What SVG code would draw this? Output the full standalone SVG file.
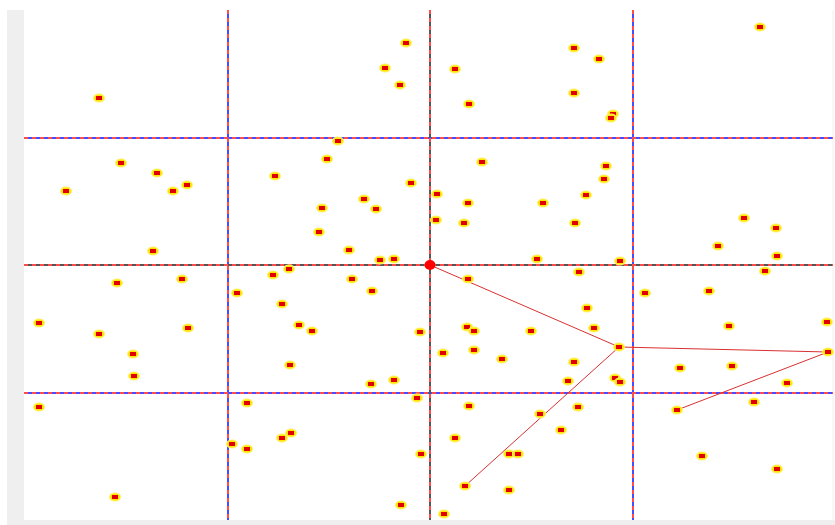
<svg xmlns="http://www.w3.org/2000/svg" xmlns:xlink="http://www.w3.org/1999/xlink" width="835" height="525" viewBox="0 0 835 525">
<style>
.grid{stroke:#4a4aff;stroke-width:2;fill:none}
.gridc{stroke:#555;stroke-width:2;fill:none}
.dash{stroke:#ff4d4d;stroke-width:2;stroke-dasharray:4 4;fill:none}
.edge{stroke:#d83030;stroke-width:1;fill:none}
</style>
<defs>
<g id="pt"><ellipse cx="0" cy="0" rx="6" ry="4.5" fill="#fff06a"/><ellipse cx="0" cy="0" rx="5" ry="3.6" fill="#ffe600"/><rect x="-3" y="-2" width="6" height="4" fill="#e00000"/></g>
</defs>
<rect x="0" y="0" width="835" height="525" fill="#fff"/>
<rect x="7" y="10" width="17" height="515" fill="#efefef"/>
<rect x="7" y="520" width="828" height="5" fill="#efefef"/>
<line x1="833" y1="10" x2="833" y2="520" stroke="#f0f0f0" stroke-width="1"/>
<g id="grid">
<path class="grid" d="M228,10V520M633,10V520M24,138H833M24,393H833"/>
<path class="gridc" d="M430,10V520M24,265H833"/>
<path class="dash" d="M228,10V520M633,10V520M430,10V520M24,138H833M24,393H833M24,265H833"/>
</g>
<g id="connectors">
<path class="edge" d="M430,265L619,347M619,347L828,352M619,347L465,486M828,352L677,410"/>
</g>
<g id="points">
<use xlink:href="#pt" x="406" y="43"/><use xlink:href="#pt" x="760" y="27"/><use xlink:href="#pt" x="574" y="48"/><use xlink:href="#pt" x="599" y="59"/>
<use xlink:href="#pt" x="385" y="68"/><use xlink:href="#pt" x="455" y="69"/><use xlink:href="#pt" x="400" y="85"/><use xlink:href="#pt" x="99" y="98"/>
<use xlink:href="#pt" x="574" y="93"/><use xlink:href="#pt" x="469" y="104"/><use xlink:href="#pt" x="613" y="114"/><use xlink:href="#pt" x="611" y="118"/>
<use xlink:href="#pt" x="338" y="141"/><use xlink:href="#pt" x="121" y="163"/><use xlink:href="#pt" x="327" y="159"/><use xlink:href="#pt" x="482" y="162"/>
<use xlink:href="#pt" x="157" y="173"/><use xlink:href="#pt" x="606" y="166"/><use xlink:href="#pt" x="275" y="176"/><use xlink:href="#pt" x="187" y="185"/>
<use xlink:href="#pt" x="173" y="191"/><use xlink:href="#pt" x="66" y="191"/><use xlink:href="#pt" x="411" y="183"/><use xlink:href="#pt" x="604" y="179"/>
<use xlink:href="#pt" x="437" y="194"/><use xlink:href="#pt" x="586" y="195"/><use xlink:href="#pt" x="364" y="199"/><use xlink:href="#pt" x="468" y="203"/>
<use xlink:href="#pt" x="322" y="208"/><use xlink:href="#pt" x="376" y="209"/><use xlink:href="#pt" x="543" y="203"/><use xlink:href="#pt" x="744" y="218"/>
<use xlink:href="#pt" x="436" y="220"/><use xlink:href="#pt" x="464" y="223"/><use xlink:href="#pt" x="575" y="223"/><use xlink:href="#pt" x="776" y="228"/>
<use xlink:href="#pt" x="319" y="232"/><use xlink:href="#pt" x="718" y="246"/><use xlink:href="#pt" x="349" y="250"/><use xlink:href="#pt" x="153" y="251"/>
<use xlink:href="#pt" x="777" y="256"/><use xlink:href="#pt" x="394" y="259"/><use xlink:href="#pt" x="380" y="260"/><use xlink:href="#pt" x="537" y="259"/>
<use xlink:href="#pt" x="620" y="261"/><use xlink:href="#pt" x="289" y="269"/><use xlink:href="#pt" x="273" y="275"/><use xlink:href="#pt" x="765" y="271"/>
<use xlink:href="#pt" x="579" y="272"/><use xlink:href="#pt" x="182" y="279"/><use xlink:href="#pt" x="468" y="279"/><use xlink:href="#pt" x="352" y="279"/>
<use xlink:href="#pt" x="117" y="283"/><use xlink:href="#pt" x="237" y="293"/><use xlink:href="#pt" x="372" y="291"/><use xlink:href="#pt" x="645" y="293"/>
<use xlink:href="#pt" x="709" y="291"/><use xlink:href="#pt" x="282" y="304"/><use xlink:href="#pt" x="587" y="308"/><use xlink:href="#pt" x="39" y="323"/>
<use xlink:href="#pt" x="299" y="325"/><use xlink:href="#pt" x="188" y="328"/><use xlink:href="#pt" x="312" y="331"/><use xlink:href="#pt" x="467" y="327"/>
<use xlink:href="#pt" x="474" y="331"/><use xlink:href="#pt" x="531" y="331"/><use xlink:href="#pt" x="594" y="328"/><use xlink:href="#pt" x="729" y="326"/>
<use xlink:href="#pt" x="827" y="322"/><use xlink:href="#pt" x="99" y="334"/><use xlink:href="#pt" x="420" y="332"/><use xlink:href="#pt" x="619" y="347"/>
<use xlink:href="#pt" x="828" y="352"/><use xlink:href="#pt" x="133" y="354"/><use xlink:href="#pt" x="443" y="353"/><use xlink:href="#pt" x="474" y="350"/>
<use xlink:href="#pt" x="502" y="359"/><use xlink:href="#pt" x="574" y="362"/><use xlink:href="#pt" x="680" y="368"/><use xlink:href="#pt" x="732" y="366"/>
<use xlink:href="#pt" x="290" y="365"/><use xlink:href="#pt" x="134" y="376"/><use xlink:href="#pt" x="394" y="380"/><use xlink:href="#pt" x="371" y="384"/>
<use xlink:href="#pt" x="568" y="381"/><use xlink:href="#pt" x="615" y="378"/><use xlink:href="#pt" x="620" y="382"/><use xlink:href="#pt" x="787" y="383"/>
<use xlink:href="#pt" x="417" y="398"/><use xlink:href="#pt" x="754" y="402"/><use xlink:href="#pt" x="677" y="410"/><use xlink:href="#pt" x="39" y="407"/>
<use xlink:href="#pt" x="247" y="403"/><use xlink:href="#pt" x="469" y="406"/><use xlink:href="#pt" x="578" y="407"/><use xlink:href="#pt" x="540" y="414"/>
<use xlink:href="#pt" x="291" y="433"/><use xlink:href="#pt" x="282" y="438"/><use xlink:href="#pt" x="561" y="430"/><use xlink:href="#pt" x="455" y="438"/>
<use xlink:href="#pt" x="232" y="444"/><use xlink:href="#pt" x="247" y="449"/><use xlink:href="#pt" x="421" y="454"/><use xlink:href="#pt" x="509" y="454"/>
<use xlink:href="#pt" x="518" y="454"/><use xlink:href="#pt" x="702" y="456"/><use xlink:href="#pt" x="777" y="469"/><use xlink:href="#pt" x="465" y="486"/>
<use xlink:href="#pt" x="509" y="490"/><use xlink:href="#pt" x="115" y="497"/><use xlink:href="#pt" x="401" y="505"/><use xlink:href="#pt" x="444" y="514"/>
</g>
<g id="center"><ellipse cx="430" cy="265" rx="5.5" ry="5" fill="#ff0000"/></g>
</svg>
